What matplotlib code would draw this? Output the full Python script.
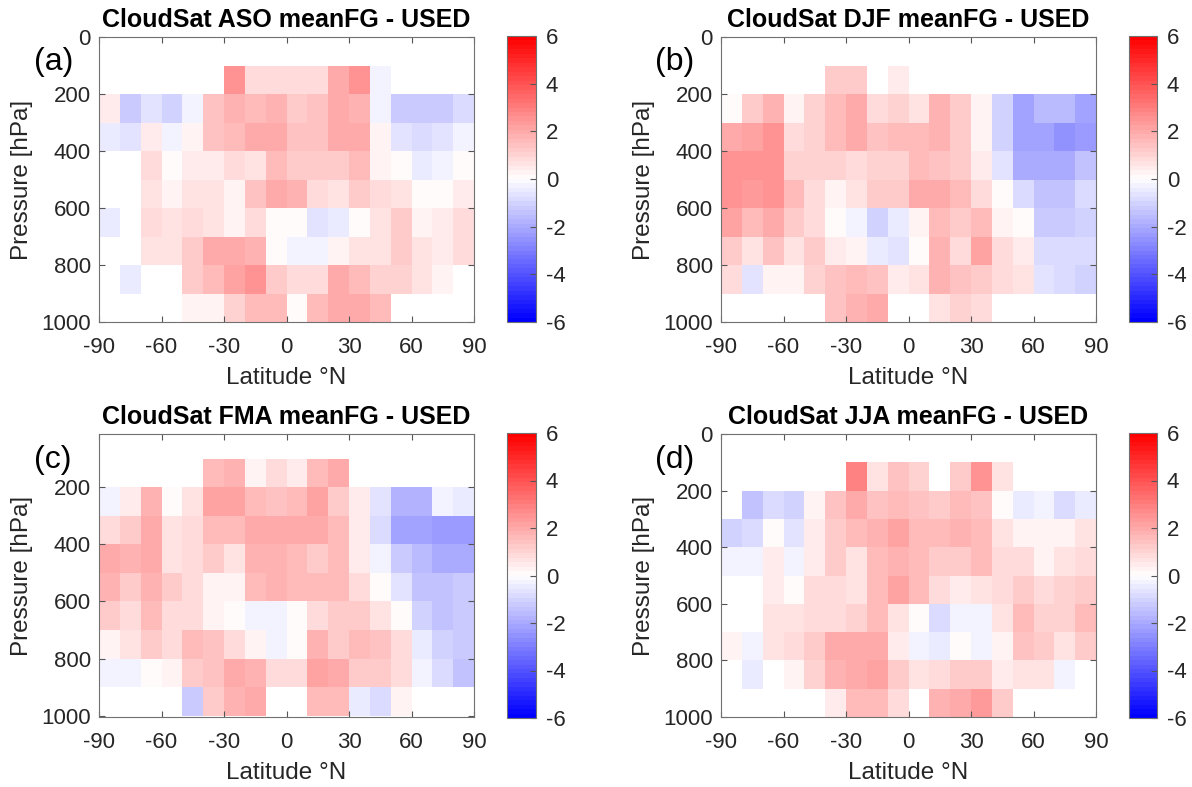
import numpy as np
import matplotlib
matplotlib.use('Agg')
import matplotlib.pyplot as plt

n = np.nan

# latitude bin edges (deg N) and pressure bin edges (hPa)
lat_edges = np.arange(-90, 91, 10)
p_edges = np.arange(100, 1001, 100)

titles = ['CloudSat ASO meanFG - USED', 'CloudSat DJF meanFG - USED',
          'CloudSat FMA meanFG - USED', 'CloudSat JJA meanFG - USED']
letters = ['(a)', '(b)', '(c)', '(d)']

# rows: 100-200 hPa ... 900-1000 hPa, cols: -90..-80 ... 80..90
aso = [
    [n, n, n, n, n, n, 2.6, 0.9, 0.9, 0.9, 0.9, 1.9, 2.5, -0.2, n, n, n, n],
    [0.5, -1.2, -0.6, -1.1, -0.25, 1.4, 1.8, 1.6, 1.8, 1.3, 1.4, 1.9, 1.8, -0.2, -1.2, -1.2, -1.2, -0.8],
    [-0.5, -0.6, 0.5, -0.2, 0.2, 1.4, 1.6, 1.9, 1.9, 1.4, 1.4, 1.9, 1.9, 0.2, -0.6, -0.8, -0.6, -0.2],
    [n, n, 0.8, 0, 0.5, 0.5, 0.9, 0.7, 1.5, 1.3, 1.2, 1.2, 1.6, 0.2, 0, -0.4, -0.3, 0],
    [n, n, 0.7, 0.2, 0.7, 0.6, 0.35, 1.4, 1.9, 1.8, 0.9, 0.7, 1.2, 0.9, 0.7, 0, 0, 0.5],
    [-0.4, n, 0.9, 0.7, 0.8, 0.6, 0.2, 0.8, 0, 0, -0.7, -0.4, 0, 0.7, 1.2, 0.2, 0.5, 0.8],
    [n, n, 0.7, 0.7, 1.3, 1.9, 1.9, 1.8, 0, -0.2, -0.2, 0.2, 0.7, 0.7, 1.3, 0.7, 0.5, 0.8],
    [n, -0.4, n, n, 1.3, 1.6, 2.1, 2.6, 1.3, 0.8, 0.9, 1.9, 1.5, 1.1, 1.1, 0.7, 0.2, n],
    [n, n, n, n, 0.2, 0.2, 1.1, 1.6, 1.6, 0, 1.5, 1.9, 1.9, 1.5, n, n, n, n],
]

djf = [
    [n, n, n, n, n, 1.3, 1.3, n, 0.5, n, n, n, n, n, n, n, n, n],
    [0, 1.2, 1.8, 0.2, 1.1, 1.6, 2.0, 0.9, 1.1, 0.7, 1.8, 1.2, 0.2, -1.1, -2.2, -1.6, -1.6, -2.2],
    [1.9, 2.1, 2.5, 0.9, 1.1, 1.6, 1.9, 1.4, 1.5, 1.5, 1.8, 1.3, 0.2, -1.1, -2.2, -2.2, -2.6, -2.3],
    [2.6, 2.5, 2.5, 1.1, 1.1, 1.1, 0.8, 1.1, 1.1, 1.5, 1.4, 1.2, 0.5, -0.6, -2.0, -1.9, -1.9, -1.5],
    [2.5, 2.4, 2.5, 1.5, 0.8, 0.2, 0.7, 1.3, 1.3, 1.9, 1.9, 1.5, 0.8, 0, -0.8, -1.4, -1.4, -0.8],
    [2.1, 1.6, 2.0, 1.2, 0.8, 0, -0.3, -1.1, -0.5, 0.2, 1.5, 1.2, 1.6, 0.2, 0, -1.3, -1.3, -1.1],
    [1.3, 0.7, 1.4, 0.7, 1.3, 0.5, 0.2, -0.5, -0.6, 0, 1.8, 0.9, 2.1, 0.8, 0.5, -0.8, -0.8, -0.8],
    [0.8, -0.6, 0.2, 0.2, 1.1, 1.4, 1.5, 1.4, 0.5, 0.7, 1.8, 1.4, 1.2, 0.8, 0.7, -0.6, -0.8, -1.1],
    [n, n, n, n, n, 1.4, 1.8, 1.9, n, n, 0.7, 1.1, 0.8, n, n, n, n, n],
]

fma = [
    [n, n, n, n, n, 1.5, 1.8, 0.2, 0.8, 0.5, 1.5, 2.0, n, n, n, n, n, n],
    [-0.2, 0.5, 1.8, 0, 0.7, 2.1, 2.2, 1.5, 1.4, 1.5, 2.2, 1.3, 0.5, -0.6, -1.8, -1.8, -0.2, -0.4],
    [0.9, 1.3, 2.0, 0.7, 0.8, 1.6, 1.6, 1.9, 2.0, 1.9, 2.0, 1.5, 0.5, -0.8, -2.1, -2.2, -2.3, -2.3],
    [2.0, 1.8, 2.0, 0.7, 0.8, 1.2, 0.7, 1.8, 1.8, 1.5, 1.2, 1.6, 0.5, -0.35, -1.3, -1.6, -1.9, -1.9],
    [1.8, 1.2, 1.8, 1.2, 0.8, 0.35, 0.2, 1.6, 1.8, 1.5, 1.6, 1.6, 0.8, 0, -0.6, -1.5, -1.5, -1.3],
    [1.2, 0.9, 1.6, 0.9, 0.9, 0.35, 0, -0.25, -0.25, 0, 0.8, 1.3, 1.2, 0.7, 0, -1.1, -1.5, -1.3],
    [0.35, 0.7, 1.2, 0.8, 1.5, 1.4, 0.8, 0.2, -0.25, 0, 1.8, 1.2, 1.6, 1.4, 0.8, -0.4, -1.1, -1.3],
    [-0.25, -0.25, 0.15, 0.35, 1.2, 1.4, 2.0, 1.8, 0.8, 0.8, 2.2, 1.9, 1.2, 1.2, 0.9, -0.25, -0.8, -1.4],
    [n, n, n, n, -1.3, 1.2, 1.8, 1.9, n, n, 1.6, 1.6, -0.4, -0.8, 0.2, n, n, n],
]

jja = [
    [n, n, n, n, n, n, 2.9, 0.7, 1.4, 1.1, n, 1.3, 2.6, 0.7, n, n, n, n],
    [n, -1.5, -0.8, -1.1, 0.2, 1.4, 1.9, 1.4, 1.6, 1.4, 1.2, 1.6, 1.4, 0, -0.4, -0.2, -0.8, -0.4],
    [-1.1, -0.8, 0, -0.6, 0.5, 1.3, 1.5, 1.8, 2.1, 1.6, 1.6, 1.8, 1.6, 0.7, 0.2, 0.2, 0.2, 0.7],
    [-0.3, -0.3, 0.5, -0.3, 0.5, 1.3, 0.7, 1.6, 1.8, 1.5, 1.3, 1.3, 1.6, 0.8, 0.9, 0.2, 0.6, 0.8],
    [n, n, 0.5, 0, 0.8, 0.8, 0.6, 1.6, 2.2, 1.5, 0.8, 0.5, 0.6, 0.8, 1.3, 0.8, 1.1, 1.3],
    [n, n, 0.6, 0.7, 0.8, 0.8, 1.1, 1.6, 0.6, 0, -0.8, -0.3, -0.3, 0.7, 1.5, 1.1, 1.1, 1.6],
    [0.2, -0.3, 0.6, 0.8, 1.3, 2.0, 2.0, 1.9, 0.5, -0.3, -0.4, 0, -0.3, 0.2, 1.4, 1.2, 0.7, 1.3],
    [n, -0.4, n, 0.2, 1.1, 1.8, 2.0, 2.2, 1.3, 0.7, 0.8, 1.3, 1.3, 0.5, 0.6, 0.6, -0.3, n],
    [n, n, n, n, n, 0.5, 1.6, 1.5, 0.9, n, 1.8, 2.0, 2.4, 1.2, n, n, n, n],
]

seasons = [aso, djf, fma, jja]

plt.rcParams['font.family'] = ['Liberation Sans', 'DejaVu Sans']
plt.rcParams['axes.unicode_minus'] = False
tick_col = '#262626'
cmap = plt.get_cmap('bwr', 64)

W, H = 1192., 787.
# axes boxes in pixels: left, top, right, bottom
ax_px = [(99, 37, 474, 322), (721, 37, 1096, 322),
         (99, 434, 474, 717), (721, 434, 1096, 717)]
cb_px = [(507, 36, 536, 322), (1129, 36, 1157, 322),
         (507, 433, 536, 718), (1129, 433, 1157, 718)]
lett_px = [(34, 62), (655, 62), (34, 460), (655, 460)]

fig = plt.figure(figsize=(W / 100, H / 100), dpi=100)

for i in range(4):
    l, t, r, b = ax_px[i]
    ax = fig.add_axes([l / W, 1 - b / H, (r - l) / W, (b - t) / H])
    data = np.array(seasons[i], dtype=float)
    pc = ax.pcolormesh(lat_edges, p_edges, np.ma.masked_invalid(data),
                       cmap=cmap, vmin=-6, vmax=6)
    ax.set_xlim(-90, 90)
    if i == 2:
        ax.set_ylim(1005, 13)
        ax.set_yticks([200, 400, 600, 800, 1000])
    else:
        ax.set_ylim(1000, 0)
        ax.set_yticks([0, 200, 400, 600, 800, 1000])
    ax.set_xticks([-90, -60, -30, 0, 30, 60, 90])
    ax.tick_params(direction='in', top=True, right=True, length=4,
                   width=0.8, color='#555555', labelsize=16,
                   labelcolor=tick_col)
    ax.tick_params(axis='x', pad=11)
    ax.tick_params(axis='y', pad=6)
    for sp in ax.spines.values():
        sp.set_color('#707070')
        sp.set_linewidth(0.8)
    ax.set_xlabel('Latitude °N', fontsize=17.5, color=tick_col, labelpad=6)
    ax.set_ylabel('Pressure [hPa]', fontsize=17.5, color=tick_col, labelpad=6)
    ax.set_title(titles[i], fontsize=18, fontweight='bold', pad=7)

    l, t, r, b = cb_px[i]
    cax = fig.add_axes([l / W, 1 - b / H, (r - l) / W, (b - t) / H])
    cb = fig.colorbar(pc, cax=cax, ticks=[-6, -4, -2, 0, 2, 4, 6])
    cb.ax.tick_params(direction='in', length=4, width=0.8, color='#555555',
                      labelsize=16, labelcolor=tick_col, pad=7)
    cb.outline.set_edgecolor('#707070')
    cb.outline.set_linewidth(0.8)

    x, y = lett_px[i]
    fig.text(x / W, 1 - y / H, letters[i], fontsize=23, ha='left', va='center')

fig.savefig('out.png', dpi=100)
